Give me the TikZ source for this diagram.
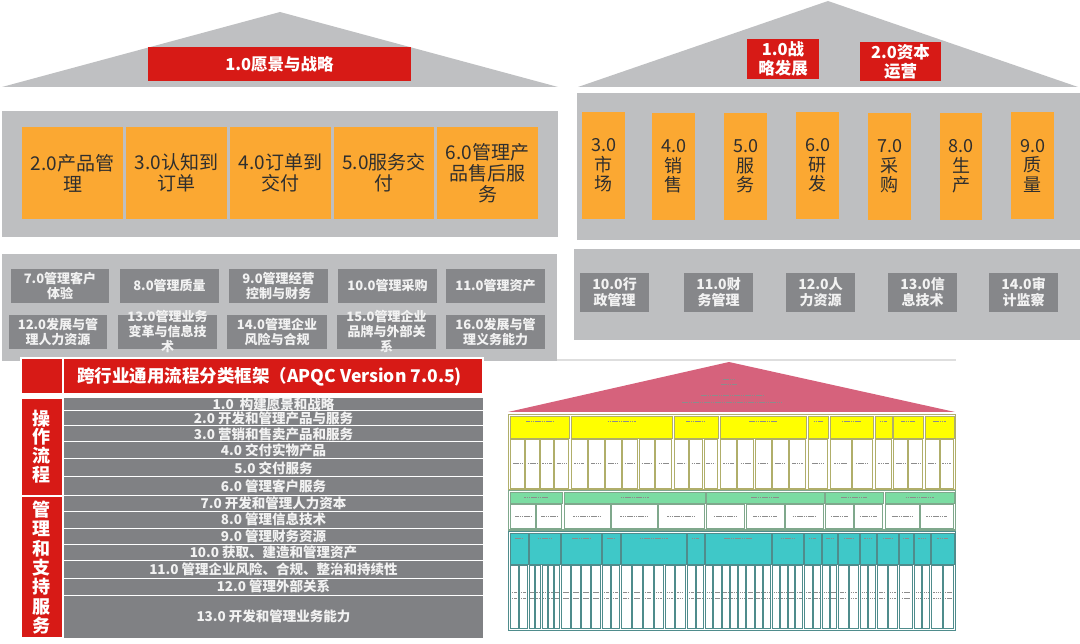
\documentclass[tikz,border=0pt]{standalone}
\usepackage{fontspec}
\setmainfont{Noto Sans CJK SC}
\definecolor{roofg}{HTML}{BFC0C2}
\definecolor{bandg}{HTML}{BEBFC1}
\definecolor{darkg}{HTML}{86878A}
\definecolor{orng}{HTML}{FBA832}
\definecolor{redc}{HTML}{D71A16}
\definecolor{tblg}{HTML}{808184}
\definecolor{pinkc}{HTML}{D6627C}
\definecolor{yelc}{HTML}{FFFF00}
\definecolor{olivec}{HTML}{B0AE6A}
\definecolor{grnc}{HTML}{7BDCA2}
\definecolor{grnbd}{HTML}{7FA88C}
\definecolor{tealc}{HTML}{3FC8C8}
\definecolor{tealbd}{HTML}{4F8C8C}
\definecolor{txtdk}{HTML}{2E2E2E}
\definecolor{txtlt}{HTML}{F2F2F2}
\newcommand\mybox[8]{%
  \fill[#1] (#4,#5) rectangle (#6,#7);
  \node[#2] (#3) at ({(#4+#6)/2},{(#5+#7)/2}) {#8};}
\newcommand\myfake[3]{\draw[fk] ({#1-(#3)/2},{#2}) -- ({#1+(#3)/2},{#2});}
\newcommand\mygrp[9]{%
  \draw[#8, fill=#7, line width=0.8pt] (#1,#4) rectangle (#2,#5);
  \pgfmathsetmacro\myHW{#2-#1}%
  \myfake{(#1+#2)/2}{#4+min(5.5,(#5-#4)/2)}{min(0.45*\myHW,28)}
  \pgfmathsetmacro\myCW{(#2-#1)/#3}%
  \foreach \myI in {1,...,#3}{%
    \pgfmathsetmacro\myCA{#1+(\myI-1)*\myCW+0.6}%
    \pgfmathsetmacro\myCB{#1+\myI*\myCW-0.6}%
    \draw[#8, fill=white, line width=0.8pt] ({\myCA},{#5+1}) rectangle ({\myCB},{#6});
    \foreach \myY in {#9}{\myfake{(\myCA+\myCB)/2}{\myY}{0.6*\myCW}}
  }}
\begin{document}
\begin{tikzpicture}[x=1pt,y=-1pt,
  ob/.style={text=txtdk, align=center, inner sep=0pt, font=\fontsize{19}{21}\selectfont},
  pb/.style={text=txtdk, align=center, inner sep=0pt, font=\fontsize{18}{19.5}\selectfont},
  db/.style={text=txtlt, align=center, inner sep=0pt, font=\fontsize{13}{15}\selectfont\bfseries},
  rdb/.style={text=txtlt, align=center, inner sep=0pt, font=\fontsize{14}{16}\selectfont\bfseries},
  rb/.style={text=white, align=center, inner sep=0pt, font=\fontsize{16.5}{19}\selectfont\bfseries},
  tt/.style={text=txtlt, inner sep=0pt, font=\fontsize{13.5}{15}\selectfont\bfseries},
  lc/.style={text=white, align=center, inner sep=0pt},
  fk/.style={draw=black!45, line width=0.9pt, dash pattern=on 1.6pt off 0.6pt}]
\useasboundingbox (0,0) rectangle (1080,644);

% ---------------- left house ----------------
\fill[roofg] (2,87) -- (280,12) -- (558,87) -- cycle;
\mybox{redc}{rb}{v1}{148}{47}{411}{81}{1.0愿景与战略}
\fill[bandg] (2,111) rectangle (558,237);
\mybox{orng}{ob}{p2}{22}{127}{123}{219}{2.0产品管\\理}
\mybox{orng}{ob}{p3}{126}{127}{227}{219}{3.0认知到\\订单}
\mybox{orng}{ob}{p4}{230}{127}{331}{219}{4.0订单到\\交付}
\mybox{orng}{ob}{p5}{334}{127}{434}{219}{5.0服务交\\付}
\mybox{orng}{ob}{p6}{437}{127}{538}{219}{6.0管理产\\品售后服\\务}
\fill[bandg] (2,254) rectangle (557,361);
\mybox{darkg}{db}{m7}{11}{269}{109}{303}{7.0管理客户\\体验}
\mybox{darkg}{db}{m8}{120}{269}{219}{303}{8.0管理质量}
\mybox{darkg}{db}{m9}{229}{269}{328}{303}{9.0管理经营\\控制与财务}
\mybox{darkg}{db}{m10}{338}{269}{437}{303}{10.0管理采购}
\mybox{darkg}{db}{m11}{446}{269}{545}{303}{11.0管理资产}
\mybox{darkg}{db}{m12}{9}{315}{107}{349}{12.0发展与管\\理人力资源}
\mybox{darkg}{db}{m13}{118}{315}{217}{349}{13.0管理业务\\变革与信息技\\术}
\mybox{darkg}{db}{m14}{227}{315}{327}{349}{14.0管理企业\\风险与合规}
\mybox{darkg}{db}{m15}{337}{315}{436}{349}{15.0管理企业\\品牌与外部关\\系}
\mybox{darkg}{db}{m16}{446}{315}{545}{349}{16.0发展与管\\理义务能力}

% ---------------- right house ----------------
\fill[roofg] (578,87) -- (828,1) -- (1078,87) -- cycle;
\mybox{redc}{rb}{s1}{747}{39}{819}{79}{1.0战\\略发展}
\mybox{redc}{rb}{s2}{860}{42}{941}{81}{2.0资本\\运营}
\fill[bandg] (577,93) rectangle (1080,240);
\mybox{orng}{pb}{q3}{582}{112}{625}{219}{3.0\\市\\场}
\mybox{orng}{pb}{q4}{652}{113}{695}{220}{4.0\\销\\售}
\mybox{orng}{pb}{q5}{724}{113}{767}{220}{5.0\\服\\务}
\mybox{orng}{pb}{q6}{796}{112}{839}{219}{6.0\\研\\发}
\mybox{orng}{pb}{q7}{868}{113}{911}{220}{7.0\\采\\购}
\mybox{orng}{pb}{q8}{940}{113}{982}{220}{8.0\\生\\产}
\mybox{orng}{pb}{q9}{1011}{112}{1054}{219}{9.0\\质\\量}
\fill[bandg] (574,249) rectangle (1080,340);
\mybox{darkg}{rdb}{n10}{580}{273}{649}{312}{10.0行\\政管理}
\mybox{darkg}{rdb}{n11}{684}{273}{753}{312}{11.0财\\务管理}
\mybox{darkg}{rdb}{n12}{786}{273}{855}{312}{12.0人\\力资源}
\mybox{darkg}{rdb}{n13}{888}{273}{957}{312}{13.0信\\息技术}
\mybox{darkg}{rdb}{n14}{989}{273}{1058}{312}{14.0审\\计监察}

% ---------------- APQC table ----------------
\path[fill=redc, draw=white, line width=1.2pt] (21,358) rectangle (62.5,394);
\path[fill=redc, draw=white, line width=1.2pt] (63.5,358) rectangle (483,394);
\node[text=white, inner sep=0pt, anchor=west, font=\fontsize{17.5}{20}\selectfont\bfseries] (title) at (77,377) {跨行业通用流程分类框架（APQC Version 7.0.5)};
\path[fill=redc, draw=white, line width=1.2pt] (21,398) rectangle (62.5,495.5);
\path[fill=redc, draw=white, line width=1.2pt] (21,496.5) rectangle (62.5,638);
\node[lc, font=\fontsize{18}{18.7}\selectfont\bfseries] (ops) at (41.75,446.5) {操\\作\\流\\程};
\node[lc, font=\fontsize{18}{19.3}\selectfont\bfseries] (mgmt) at (41.75,567.5) {管\\理\\和\\支\\持\\服\\务};
\foreach \ya/\yb/\tx [count=\k] in {398/411/{1.0\ \ 构建愿景和战略},411/426/{2.0 开发和管理产品与服务},426/442/{3.0 营销和售卖产品和服务},442/459/{4.0 交付实物产品},459/477/{5.0 交付服务},477/495/{6.0 管理客户服务},495/511/{7.0 开发和管理人力资本},511/528/{8.0 管理信息技术},528/544/{9.0 管理财务资源},544/560/{10.0 获取、建造和管理资产},560/578/{11.0 管理企业风险、合规、整治和持续性},578/595/{12.0 管理外部关系},595/638/{13.0 开发和管理业务能力}}{
  \path[fill=tblg, draw=white, line width=1pt] (63.5,\ya) rectangle (483,\yb);
  \node[tt] (row\k) at (273.5,{(\ya+\yb)/2}) {\tx};
}

% ---------------- small APQC house ----------------
\draw[black!13, line width=1.2pt] (557,360) -- (956,360);
\fill[pinkc] (508,412) -- (729,362) -- (955,412) -- cycle;
\myfake{729}{379}{12}
\myfake{729}{384}{16}
\myfake{732}{395}{62}
\myfake{732}{402}{100}
% yellow block
\draw[olivec, line width=1.5pt, fill=white] (508.5,414.5) rectangle (955.5,489.5);
\mygrp{510}{569}{4}{416}{438}{488}{yelc}{olivec}{463}
\mygrp{571}{672}{6}{416}{438}{488}{yelc}{olivec}{463}
\mygrp{674}{718}{3}{416}{438}{488}{yelc}{olivec}{463}
\mygrp{720}{806}{5}{416}{438}{488}{yelc}{olivec}{463}
\mygrp{808}{828}{1}{416}{438}{488}{yelc}{olivec}{463}
\mygrp{830}{873}{2}{416}{438}{488}{yelc}{olivec}{463}
\mygrp{875}{892}{1}{416}{438}{488}{yelc}{olivec}{463}
\mygrp{893}{923}{2}{416}{438}{488}{yelc}{olivec}{463}
\mygrp{925}{954}{2}{416}{438}{488}{yelc}{olivec}{463}
% green block
\draw[grnbd, line width=1.5pt, fill=white] (508.5,490.5) rectangle (955.5,530);
\mygrp{510}{562}{2}{492}{503}{528}{grnc}{grnbd}{516}
\mygrp{564}{705}{3}{492}{503}{528}{grnc}{grnbd}{516}
\mygrp{706}{824}{3}{492}{503}{528}{grnc}{grnbd}{516}
\mygrp{825}{883}{2}{492}{503}{528}{grnc}{grnbd}{516}
\mygrp{885}{954}{2}{492}{503}{528}{grnc}{grnbd}{516}
% teal block
\draw[tealbd, line width=1.5pt, fill=white] (508.5,531.5) rectangle (955.5,630.5);
\mygrp{510}{528}{2}{533}{564}{628}{tealc}{tealbd}{592,598}
\mygrp{529}{560}{5}{533}{564}{628}{tealc}{tealbd}{592,598}
\mygrp{561}{601}{4}{533}{564}{628}{tealc}{tealbd}{592,598}
\mygrp{602}{620}{2}{533}{564}{628}{tealc}{tealbd}{592,598}
\mygrp{621}{686}{6}{533}{564}{628}{tealc}{tealbd}{592,598}
\mygrp{687}{704}{2}{533}{564}{628}{tealc}{tealbd}{592,598}
\mygrp{705}{771}{8}{533}{564}{628}{tealc}{tealbd}{592,598}
\mygrp{772}{803}{4}{533}{564}{628}{tealc}{tealbd}{592,598}
\mygrp{804}{821}{2}{533}{564}{628}{tealc}{tealbd}{592,598}
\mygrp{822}{837}{2}{533}{564}{628}{tealc}{tealbd}{592,598}
\mygrp{838}{859}{2}{533}{564}{628}{tealc}{tealbd}{592,598}
\mygrp{860}{876}{2}{533}{564}{628}{tealc}{tealbd}{592,598}
\mygrp{877}{898}{2}{533}{564}{628}{tealc}{tealbd}{592,598}
\mygrp{899}{913}{1}{533}{564}{628}{tealc}{tealbd}{592,598}
\mygrp{914}{930}{2}{533}{564}{628}{tealc}{tealbd}{592,598}
\mygrp{931}{954}{2}{533}{564}{628}{tealc}{tealbd}{592,598}
\end{tikzpicture}
\end{document}
